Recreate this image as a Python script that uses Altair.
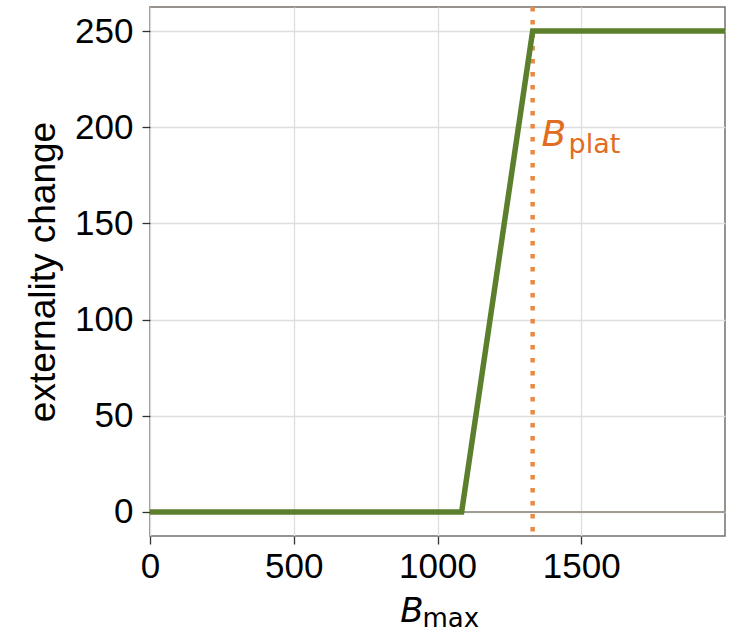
import altair as alt
import pandas as pd

# data
bmax = [0, 1084, 1331, 2000]
ext = [0, 0, 250, 250]
b_plat = 1331
x_ticks = [0, 500, 1000, 1500]
y_ticks = [0, 50, 100, 150, 200, 250]

W, H = 575, 529
FONT = "Liberation Sans"
GREEN = "#5b7f2c"
ORANGE = "#e98a45"
LABEL_OR = "#e06d20"

line_df = pd.DataFrame({"bmax": bmax, "ext": ext})
xs = alt.Scale(domain=[0, 2000], nice=False, zero=False)
ys = alt.Scale(domain=[-12.5, 262.5], nice=False, zero=False)

xax = alt.Axis(values=x_ticks, format="d", title=None, labelFont=FONT, labelFontSize=35,
               labelColor="black", labelPadding=5, tickSize=8, tickColor="#333", tickWidth=1.3,
               domain=False, gridColor="#dedede", gridWidth=1.3, labelFlush=False)
yax = alt.Axis(values=y_ticks, format="d", title="externality change", titleFont=FONT,
               titleFontSize=37, titleFontWeight="normal", titleColor="black", titlePadding=12,
               labelFont=FONT, labelFontSize=35, labelColor="black", labelPadding=9,
               tickSize=8, tickColor="#333", tickWidth=1.3, domain=False,
               gridColor="#dedede", gridWidth=1.3)

zero_df = pd.DataFrame({"y": [0]})
zero_line = alt.Chart(zero_df).mark_rule(color="#a19b94", strokeWidth=2).encode(
    y=alt.Y("y:Q", scale=ys, axis=yax))

vline = alt.Chart(pd.DataFrame({"x": [b_plat]})).mark_rule(
    color=ORANGE, strokeWidth=4.5, strokeDash=[4.5, 8.5]).encode(
    x=alt.X("x:Q", scale=xs, axis=xax))

green = alt.Chart(line_df).mark_line(color=GREEN, strokeWidth=5.5, strokeJoin="miter").encode(
    x=alt.X("bmax:Q", scale=xs, axis=xax),
    y=alt.Y("ext:Q", scale=ys, axis=yax))

lab_df = pd.DataFrame({"x": [1362], "y": [190]})
plat_B = alt.Chart(lab_df).mark_text(text="B", font="DejaVu Sans", fontStyle="italic", fontSize=36,
                                     color=LABEL_OR, align="left", baseline="alphabetic").encode(
    x=alt.X("x:Q", scale=xs), y=alt.Y("y:Q", scale=ys))
plat_sub = alt.Chart(lab_df).mark_text(text="plat", font="DejaVu Sans", fontSize=27,
                                       color=LABEL_OR, align="left", baseline="alphabetic",
                                       dx=27, dy=7).encode(
    x=alt.X("x:Q", scale=xs), y=alt.Y("y:Q", scale=ys))

max_df = pd.DataFrame({"x": [1000]})
max_B = alt.Chart(max_df).mark_text(text="B", font="DejaVu Sans", fontStyle="italic", fontSize=34,
                                    color="black", align="right", baseline="alphabetic", dx=-14).encode(
    x=alt.X("x:Q", scale=xs), y=alt.value(H + 86))
max_sub = alt.Chart(max_df).mark_text(text="max", font="DejaVu Sans", fontSize=26,
                                      color="black", align="left", baseline="alphabetic", dx=-15).encode(
    x=alt.X("x:Q", scale=xs), y=alt.value(H + 91))

chart = alt.layer(zero_line, vline, green, plat_B, plat_sub, max_B, max_sub).properties(
    width=W, height=H,
    autosize=alt.AutoSizeParams(type="none"),
    padding={"left": 150, "top": 7, "right": 11, "bottom": 96},
    background="white",
).configure_view(stroke="#776f69", strokeWidth=1.5)

chart.save("out.html", embed_options={"renderer": "svg", "actions": False})
